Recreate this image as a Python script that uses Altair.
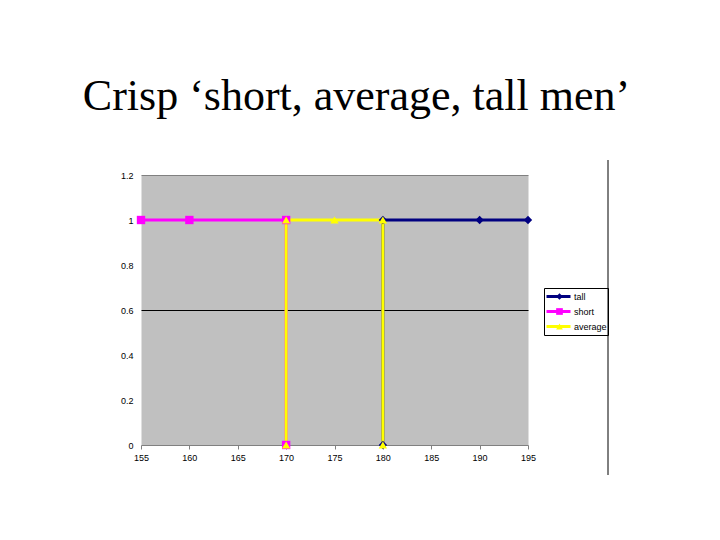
import altair as alt
import pandas as pd

# ---- data ----
series_names = ["tall", "short", "average"]
series_colors = ["#000080", "#FF00FF", "#FFFF00"]
series_shapes = ["diamond", "square", "triangle-up"]

tall_x = [180, 180, 190, 195]
tall_y = [0, 1, 1, 1]
short_x = [155, 160, 170, 170]
short_y = [1, 1, 1, 0]
average_x = [170, 170, 175, 180, 180]
average_y = [0, 1, 1, 1, 0]

x_ticks = [155, 160, 165, 170, 175, 180, 185, 190, 195]
y_ticks = [0, 0.2, 0.4, 0.6, 0.8, 1, 1.2]

title_text = "Crisp \u2018short, average, tall men\u2019"

rows = []
for name, xs, ys in [("tall", tall_x, tall_y), ("short", short_x, short_y),
                     ("average", average_x, average_y)]:
    for i, (xv, yv) in enumerate(zip(xs, ys)):
        rows.append({"series": name, "height": xv, "value": yv, "order": i})
df = pd.DataFrame(rows)

color_scale = alt.Scale(domain=series_names, range=series_colors)
shape_scale = alt.Scale(domain=series_names, range=series_shapes)

x_enc = alt.X("height:Q",
              scale=alt.Scale(domain=[155, 195], nice=False, zero=False),
              axis=alt.Axis(values=x_ticks, title=None, grid=False,
                            labelFont="Liberation Sans", labelFontSize=9,
                            labelColor="#000000", tickColor="#808080",
                            tickSize=4, domainColor="#808080",
                            labelPadding=4, labelFlush=False))
y_enc = alt.Y("value:Q",
              scale=alt.Scale(domain=[0, 1.2], nice=False),
              axis=alt.Axis(values=y_ticks, title=None, format="~g",
                            ticks=False, domain=False,
                            labelFont="Liberation Sans", labelFontSize=9,
                            labelColor="#000000", labelPadding=8,
                            grid=True,
                            gridColor=alt.condition("datum.value == 1.2",
                                                    alt.value("#808080"),
                                                    alt.value("#000000")),
                            gridOpacity=alt.condition(
                                "datum.value == 0.6 || datum.value == 1.2",
                                alt.value(1), alt.value(0))))

LX, LY = 403, 113

line_legend = alt.Legend(orient="none", legendX=LX, legendY=LY, title=None,
                         symbolType="stroke", symbolSize=576,
                         symbolStrokeWidth=3, clipHeight=15, rowPadding=0,
                         labelFont="Liberation Sans", labelFontSize=9,
                         labelColor="#000000", labelOffset=2, padding=1,
                         strokeColor="#000000")
point_legend = alt.Legend(orient="none", legendX=LX + 10, legendY=LY,
                          title=None, symbolSize=45, clipHeight=15,
                          rowPadding=0, labelExpr="''",
                          labelFontSize=9, padding=1, symbolStrokeWidth=0)

lines = alt.Chart(df).mark_line(strokeWidth=3).encode(
    x=x_enc, y=y_enc,
    color=alt.Color("series:N", scale=color_scale, legend=line_legend),
    order="order:Q",
)

points = alt.Chart(df).mark_point(filled=True, size=70, opacity=1).encode(
    x=x_enc, y=y_enc,
    color=alt.Color("series:N", scale=color_scale, legend=point_legend),
    shape=alt.Shape("series:N", scale=shape_scale, legend=point_legend),
)

frame = alt.Chart(pd.DataFrame({"a": [0]})).mark_rule(
    color="#000000", strokeWidth=1).encode(
    x=alt.value(467), y=alt.value(-15), y2=alt.value(300))

chart = alt.layer(lines, points, frame).resolve_legend(
    color="independent", shape="independent"
).properties(
    width=387, height=270,
    autosize=alt.AutoSizeParams(type="none"),
    padding={"left": 133, "top": 167, "right": 184, "bottom": 87},
    background="#FFFFFF",
    title=alt.TitleParams(title_text, font="Liberation Serif", fontSize=44,
                          fontWeight="normal", color="#000000",
                          anchor="middle", dx=22, offset=41),
).configure_view(fill="#C0C0C0", stroke="transparent")

chart.save("out.html", embed_options={"renderer": "svg", "actions": False})
